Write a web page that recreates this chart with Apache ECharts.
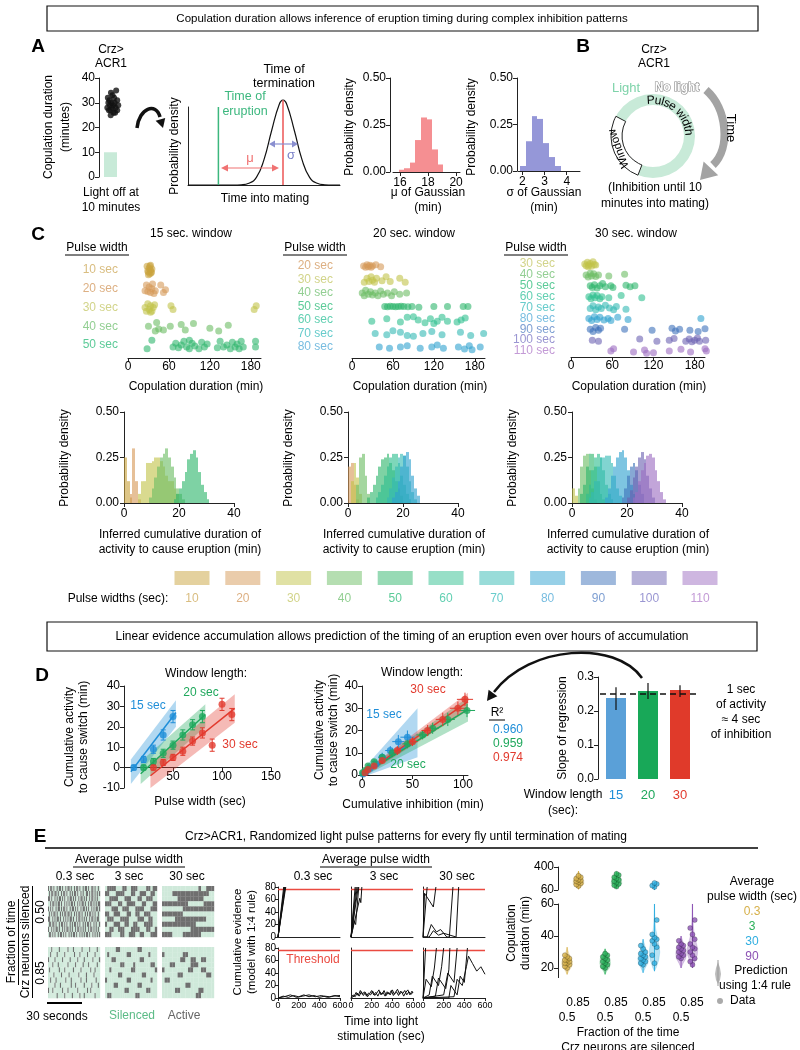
<!DOCTYPE html>
<html><head><meta charset="utf-8">
<script src="https://cdn.jsdelivr.net/npm/echarts@6.0.0/dist/echarts.min.js"></script>
<style>html,body{margin:0;padding:0;background:#fff;}#chart{width:800px;height:1050px;}</style>
</head><body><div id="chart"></div>
<script>
// ======================= DATA =======================
// ---- Panel A ----
const copDuration = [25,26,27,27,28,28,28,29,29,29,30,30,30,31,31,32,32,33,34,35,26,27];
const copJitter   = [0.45,0.62,0.38,0.7,0.5,0.32,0.64,0.42,0.74,0.55,0.36,0.6,0.48,0.7,0.4,0.58,0.34,0.52,0.46,0.66,0.56,0.44];
const lightOffAt = 10;
const gaussX = [0,3,3.5,4,4.5,5,5.5,6,6.25,6.5,7,7.5,8,8.5,9,9.5,10];
const gaussY = [0,0,0.003,0.02,0.09,0.3,0.64,0.95,1,0.95,0.64,0.3,0.09,0.02,0.003,0,0];
const eruptionT = 2.0, terminationT = 6.25;
const muEdges = [15.9,16.3,16.7,17.1,17.5,17.9,18.3,18.7,19.1];
const muDensity = [0.012,0.02,0.05,0.17,0.29,0.28,0.12,0.04];
const sigmaEdges = [1.9,2.16,2.42,2.68,2.94,3.2,3.46,3.72];
const sigmaDensity = [0.027,0.16,0.295,0.28,0.15,0.075,0.027];

// ---- Panel C ----
const pulseWidths = [10,20,30,40,50,60,70,80,90,100,110];
const pulseColors = ['#c9a33e','#d69a58','#c2c34a','#6cbd64','#2fb66c','#2fbf90','#33b9b4','#2fa2cf','#3d72ba','#6c62b2','#9d6dc2'];
const pulseTextColors = ['#d9bd80','#ddb083','#d2d48a','#93cf93','#5ccb98','#62d0b2','#68cccc','#78bde0','#7e9fd2','#9a96d2','#c39ad6'];
const win15Pulses = [10,20,30,40,50];
const win20Pulses = [20,30,40,50,60,70,80];
const win30Pulses = [30,40,50,60,70,80,90,100,110];
// [copulation duration (min), row jitter]
const win15Points = [
 [[28,-0.2],[30,0.1],[31,-0.1],[32,0.2],[33,0],[33,-0.25],[34,0.15],[35,-0.05],[30,0.25],[32,-0.2],[34,0.1],[29,0.05]],
 [[25,0.1],[27,-0.2],[29,0.15],[31,-0.1],[33,0.2],[35,0],[36,-0.25],[40,0.1],[48,-0.2],[52,0.2],[55,0.05],[38,0.25]],
 [[25,0],[27,0.2],[29,-0.2],[31,0.1],[33,-0.1],[35,0.2],[37,0],[39,-0.15],[33,0.25],[66,0.1],[63,-0.1],[185,0.1],[188,-0.1]],
 [[30,0],[42,-0.2],[45,0.15],[52,0.2],[62,0],[78,-0.1],[84,0.2],[96,-0.15],[120,0.1],[133,0.25],[147,-0.05],[40,0.25]],
 [[28,0.2],[35,-0.25],[66,0.1],[70,-0.1],[74,0.15],[78,0],[82,-0.2],[86,0.1],[90,0.2],[94,-0.1],[98,0.05],[104,0.2],[108,-0.15],[112,0.1],[116,-0.05],[131,0.15],[135,-0.2],[140,0.1],[145,0],[150,0.2],[153,-0.15],[157,0.1],[160,-0.05],[163,0.2],[166,-0.2],[169,0.1],[187,0.1],[187,-0.2],[90,-0.25]]
];
const win20Points = [
 [[17,0],[20,0.1],[22,-0.1],[24,0.05],[26,-0.05],[28,0.1],[30,0],[35,-0.1],[42,0.05]],
 [[18,0.2],[22,-0.1],[25,0.15],[28,-0.2],[30,0.05],[33,0.2],[36,-0.1],[44,0.1],[56,0.15],[70,-0.1],[78,0.2],[50,-0.2]],
 [[15,0],[18,0.2],[20,-0.2],[24,0.1],[27,-0.1],[30,0.15],[34,0],[38,0.2],[42,-0.15],[46,0.1],[52,0],[58,0.2],[62,-0.1],[70,0.1],[80,0]],
 [[48,0],[52,0.02],[56,-0.02],[60,0],[64,0.02],[68,0],[72,-0.02],[76,0],[82,0.02],[88,0],[98,0.05],[120,0],[140,0],[163,0],[170,0]],
 [[29,0.1],[51,-0.1],[71,0.15],[81,-0.2],[97,0],[107,0.2],[115,-0.1],[125,0.1],[132,-0.2],[154,0.15],[160,0],[166,-0.15],[120,0.25],[90,-0.25],[140,0.1]],
 [[34,0],[51,0.1],[71,-0.1],[81,0.15],[104,0],[117,-0.15],[132,0.1],[159,-0.1],[174,0.15],[193,0],[60,-0.2],[90,0.2]],
 [[40,0],[55,0.1],[71,0],[81,-0.1],[100,0.1],[117,0],[125,-0.15],[134,0.1],[156,0],[165,0.15],[172,-0.1],[176,0.2],[188,0]]
];
const win30Points = [
 [[20,0],[22,0.15],[24,-0.15],[26,0.1],[28,-0.05],[30,0.2],[32,-0.2],[34,0.05],[36,0.1],[25,0.25]],
 [[22,0],[25,0.2],[28,-0.15],[30,0.1],[33,-0.1],[36,0.15],[40,0],[55,0.1],[78,-0.05]],
 [[28,0],[31,0.15],[34,-0.1],[38,0.2],[42,0],[46,-0.2],[50,0.1],[58,0],[61,0.15],[80,-0.05],[86,0.1],[93,0]],
 [[26,0],[29,0.2],[32,-0.15],[35,0.1],[38,-0.1],[42,0.2],[45,0],[55,0.1],[73,-0.1],[103,0.1]],
 [[28,0.1],[32,-0.15],[36,0.2],[40,-0.05],[44,0.1],[50,-0.2],[56,0.05],[62,0.2],[66,-0.1],[80,0.15]],
 [[26,0],[30,0.2],[34,-0.15],[38,0.1],[42,-0.1],[48,0.15],[54,0],[58,0.2],[68,-0.1],[83,0.1],[189,0]],
 [[28,0],[32,0.2],[36,-0.15],[40,0.1],[43,-0.1],[78,0],[118,0.1],[147,-0.1],[152,0.15],[158,0],[173,0.1],[195,-0.05],[185,0.2]],
 [[31,0],[40,0.1],[100,-0.1],[125,0.1],[143,0],[150,-0.15],[167,0.1],[172,-0.1],[176,0.15],[180,0],[184,-0.2],[187,0.1],[196,0]],
 [[58,0],[62,-0.2],[91,0.1],[107,-0.1],[120,0.15],[143,0],[160,-0.15],[174,0.1],[197,0],[110,0.2],[195,-0.2]]
];
const histBin = 1;
const win15HistStart = [0,2,5,9,18];
const win15Hist = [
 [0.25,0.12,0.03],
 [0.05,0.30,0.12,0.02],
 [0.05,0.12,0.12,0.22,0.22,0.23,0.25,0.25,0.23,0.20,0.15,0.12,0.12,0.08,0.05],
 [0.03,0.08,0.14,0.20,0.25,0.27,0.30,0.25,0.20,0.14,0.08,0.05,0.02],
 [0.02,0.05,0.08,0.12,0.17,0.24,0.27,0.29,0.25,0.17,0.10,0.06,0.02]
];
const win20HistStart = [0,1,3,7,10,14,16];
const win20Hist = [
 [0.20,0.22,0.10,0.02],
 [0.12,0.22,0.14,0.05],
 [0.10,0.25,0.27,0.15,0.05],
 [0.03,0.06,0.10,0.15,0.20,0.24,0.25,0.27,0.22,0.18,0.12,0.08,0.04],
 [0.03,0.06,0.10,0.15,0.20,0.25,0.27,0.27,0.22,0.15,0.10,0.05,0.02],
 [0.03,0.08,0.14,0.20,0.25,0.27,0.26,0.20,0.12,0.06,0.02],
 [0.03,0.06,0.12,0.20,0.26,0.28,0.24,0.15,0.08,0.04]
];
const win30HistStart = [0,2,3,5,6,12,18,20,22];
const win30Hist = [
 [0.08,0.04],
 [0.08,0.20,0.26,0.27,0.18,0.08,0.02],
 [0.05,0.10,0.20,0.27,0.27,0.20,0.12,0.05,0.02],
 [0.05,0.10,0.18,0.25,0.27,0.25,0.18,0.10,0.05,0.02],
 [0.03,0.06,0.12,0.20,0.25,0.25,0.26,0.26,0.22,0.15,0.08,0.04],
 [0.03,0.08,0.15,0.20,0.25,0.28,0.29,0.25,0.18,0.10,0.05],
 [0.03,0.08,0.15,0.20,0.22,0.18,0.10,0.05],
 [0.03,0.07,0.14,0.20,0.25,0.28,0.24,0.15,0.08,0.03],
 [0.03,0.06,0.12,0.18,0.22,0.26,0.27,0.25,0.18,0.12,0.06,0.02]
];

// ---- Panel D ----
const windowColors = ['#1f8ed8','#1fa85c','#e23a2e'];
// [pulse width, cumulative activity, error]
const d1Points15 = [[10,0,1.2],[20,4,1.5],[30,9,2],[40,16,2.5],[50,25,3]];
const d1Points20 = [[20,0,1.2],[30,3,1.5],[40,7,2],[50,11,2],[60,16,2.5],[70,21,2.5],[80,25,3]];
const d1Points30 = [[30,0,1.2],[40,2.5,1.5],[50,5,1.5],[60,8,2],[70,13,2],[80,17,2.5],[90,11,3],[100,31,3],[110,26,3]];
const d1Fit  = [[7,-2,53,27],[17,-3,83,26],[27,-4,113,29]];
const d1Band = [[7,-8,4,53,20,33],[17,-8,3,83,20,31],[27,-10,2,113,22,36]];
// [cumulative inhibition, cumulative activity, x error, y error]
const d2Points15 = [[1,0.5,0.5,0.5],[4,1.5,1,1],[8,3,2,1],[14,5,3,1.5],[20,8,4,2],[28,11,5,2],[36,15,6,3],[45,17,7,3]];
const d2Points20 = [[0.5,1,0.5,0.5],[3,2,1,1],[6,4,1.5,1],[12,6,2,1],[20,8,3,1.5],[30,10,4,2],[45,14,5,2],[60,18,6,2],[70,21,6,2.5],[85,25,7,3],[104,29,8,3]];
const d2Points30 = [[3,1,1,0.5],[6,2.5,1.5,1],[12,4,2,1],[20,6.5,3,1.5],[35,11,4,2],[50,15,5,2],[65,20,6,2.5],[80,25,7,3],[95,30,8,3],[102,34,8,3]];
const d2Fit  = [[0,0,50,15],[0,0,105,29.5],[0,0,105,33]];
const d2Band = [[0,-1,2,55,8,30],[0,-1,1,105,24,35],[0,-1,1,105,29,37]];
const rSquared = ['0.960','0.959','0.974'];
const windowLengths = ['15','20','30'];
const slopeValues = [0.238,0.259,0.262];
const slopeLo = [0.203,0.235,0.241];
const slopeHi = [0.270,0.282,0.276];
const slopeRef = 0.25;
const barColors = ['#5aa0d8','#18a858','#e03a2a'];

// ---- Panel E ----
// light pulse patterns: 1 = active (no light), 0 = silenced
const pat03_50 = [
 "101101001011010010110100101101001011010011010010",
 "010110110100101101001010110100101001101011010101",
 "110100101011010100101101010010110101001011010100",
 "001011010110100101010110100101011010010110101011",
 "101010010110101101001011010100101101010010101101",
 "010101101001010110110100101011010010101101010010",
 "110010101101001010101101001011010101001011010110",
 "011011010010110101001010110101001010110100101001",
 "100101011010010101101010010110101010010110101010",
 "011010100101101010010101101001010101101001010101"];
const pat03_85 = [
 "000100000010000000100001000000010000001000000100",
 "001000001000000100000000100001000000100000010000",
 "100000100000010000001000000100000100000001000001",
 "000010000100000000100000010000001000010000000100",
 "010000000010000100000001000000100000000100010000",
 "000001000000100000010000000010000001000000100000",
 "001000010000000010000100000000100001000000001000",
 "000000100001000000000100010000000100000010000010",
 "100010000000010000100000000100000000100100000000",
 "000000001000000100000010000001000100000000010000"];
const pat3_50 = [
 "011110001100111000011011","110001111000110011100110","001111000111000110011100",
 "111000110011110001100011","000111001110001111000111","110011100011001100111000",
 "011100011110000111001100","100011100110011000111100","001100111000111100011001",
 "111000011001110011000111"];
const pat3_85 = [
 "000001100000000110000000","010000000011000000001000","000110000000000011000000",
 "000000011000010000000110","001000000000110000000001","000000110000000001100000",
 "100000000011000000000100","000011000000000110000000","000000000110000000011000",
 "011000000000001100000000"];
const pat30_50 = [
 "00000000000000100111","00001111111111111100","00000011111111110000",
 "11111111110000001111","00000000111111111111","11111111000000000000",
 "00000111111111111000","11111111111110000000","00000000000111111111",
 "11110000111111100000"];
const pat30_85 = [
 "00000000000000000000","10000000110000000000","00000001100110011000",
 "00011000000111000000","10000000001100011000","00000011000000000110",
 "01100000000000000000","00000000011000000000","00000110000000110000",
 "00000000000001100000"];
const evidenceThreshold = 76;
// cumulative evidence trajectories [time (s), evidence]
const evid03_50 = [[[0,0],[55,80]],[[0,0],[62,80]],[[0,0],[70,80]],[[0,0],[75,80]],[[0,0],[66,80]]];
const evid3_50 = [[[0,0],[40,80]],[[0,0],[50,80]],[[0,0],[60,80]],[[0,0],[70,80]],[[0,0],[85,62],[95,55],[105,80]],[[0,0],[30,25],[45,20],[75,80]]];
const evid30_50 = [[[0,0],[15,70],[100,48],[125,80]],[[0,0],[40,80]],
 [[0,0],[40,0],[80,20],[130,8],[170,12],[230,0],[255,0],[290,80]],
 [[0,0],[60,0],[100,10],[150,3],[200,6],[320,0],[345,80]]];
const evid03_85 = [
 [[0,0],[50,3],[100,1],[150,4],[200,2],[250,5],[300,2],[350,4],[400,1],[450,3],[500,2],[550,4],[600,2]],
 [[0,0],[60,2],[120,5],[180,1],[240,3],[300,5],[360,2],[420,4],[480,1],[540,3],[600,4]]];
const evid3_85 = [
 [[0,0],[20,5],[40,2],[60,8],[80,3],[100,10],[120,4],[140,9],[160,2],[180,7],[200,12],[220,5],[240,9],[260,3],[280,10],[300,6],[320,12],[340,4],[360,9],[380,5],[400,13],[420,6],[440,10],[460,4],[480,11],[500,7],[520,12],[540,5],[560,10],[580,6],[600,9]],
 [[0,0],[30,3],[50,9],[70,4],[90,12],[110,6],[130,10],[150,3],[170,8],[190,5],[210,11],[230,4],[250,8],[270,13],[290,5],[310,9],[330,3],[350,10],[370,6],[390,12],[410,4],[430,9],[450,14],[470,6],[490,10],[510,3],[530,9],[550,13],[570,5],[590,11],[600,8]]];
const evid30_85 = [
 [[0,0],[25,80]],
 [[0,0],[30,30],[80,18],[110,48],[130,80]],
 [[0,0],[60,5],[90,35],[150,20],[180,50],[200,80]],
 [[0,0],[120,3],[150,32],[220,15],[250,45],[260,80]],
 [[0,0],[200,5],[240,40],[300,25],[330,80]],
 [[0,0],[300,2],[330,30],[380,20],[420,50],[440,67],[480,55],[520,43],[560,50],[600,38]],
 [[0,0],[250,0],[270,20],[330,5],[360,35],[400,25],[430,80]]];
// copulation durations: groups (pulse width / fraction silenced)
const groupPulse = ['0.3','0.3','3','3','30','30','90','90'];
const groupFraction = ['0.5','0.85','0.5','0.85','0.5','0.85','0.5','0.85'];
const groupPos = [1,1.3,2,2.3,3,3.3,4,4.3];
const groupColors = ['#d6b04a','#d6b04a','#2ab05a','#2ab05a','#30aee0','#30aee0','#8c52b4','#8c52b4'];
const durLow = [[20,21,22,23,23,24,25,25,26,27,28],[],[20,21,22,23,24,25,26,27,28,29],[],
 [22,23,24,25,26,27,28,29,30,32,34],[23,28,33,35,37,38,39,41,50],[26,27,28,29,30,31,32,33,34,35,37],[22,24,26,28,30,32,33,35,38,41,45,50]];
const durHigh = [[],[120,140,160,175,190,200,215,230,250,270],[],[110,130,150,170,190,210,230,250,280,300],[],[105,125,150,165],[],[]];
// predicted violin profiles [duration, relative density]
const violinLow = [
 [[16,0],[18,0.3],[20,0.7],[22,1],[24,1],[26,0.8],[28,0.5],[30,0.25],[32,0.05],[33,0]], null,
 [[16,0],[18,0.3],[20,0.8],[23,1],[26,0.9],[28,0.6],[30,0.3],[32,0]], null,
 [[17,0],[20,0.4],[23,0.9],[26,1],[29,0.8],[32,0.5],[35,0.25],[38,0]],
 [[18,0],[20,0.3],[25,0.8],[30,1],[35,0.8],[40,0.5],[45,0.2],[50,0.1],[55,0.05],[60,0.03]],
 [[20,0],[23,0.4],[26,0.9],[29,1],[32,0.9],[35,0.5],[38,0.2],[40,0]],
 [[20,0],[24,0.5],[28,0.9],[32,1],[36,0.7],[40,0.4],[45,0.2],[50,0.1],[55,0.05],[60,0.03]]];
const violinHigh = [null,
 [[70,0],[100,0.5],[150,1],[200,1],[250,0.7],[300,0.3],[340,0]], null,
 [[80,0],[110,0.5],[160,1],[220,0.9],[280,0.5],[330,0]], null,
 [[60,0.03],[100,0.05],[150,0.03],[170,0]], null, null];

// ======================= BUILD =======================
const FONT = '"Liberation Sans", Arial, Helvetica, sans-serif';
const R90 = Math.PI/2;
const grids=[], xAxes=[], yAxes=[], series=[], graphics=[];
function merge(a,b){const o=Object.assign({},a);for(const k in b){const v=b[k];if(v&&typeof v==='object'&&!Array.isArray(v)&&a[k]&&typeof a[k]==='object'&&!Array.isArray(a[k]))o[k]=merge(a[k],v);else o[k]=v;}return o;}
const BASEAX={type:'value',axisLine:{show:true,onZero:false,lineStyle:{color:'#222',width:1}},axisTick:{show:true,length:4,lineStyle:{color:'#222',width:1}},axisLabel:{color:'#000',fontSize:12,fontFamily:FONT,margin:4},splitLine:{show:false}};
function AX(o){return merge(BASEAX,o||{});}
const HID={type:'value',show:false};
function addGrid(r,x,y){grids.push({left:r[0],top:r[1],width:r[2],height:r[3]});const gi=grids.length-1;xAxes.push(Object.assign({gridIndex:gi},x));yAxes.push(Object.assign({gridIndex:gi},y));return gi;}
function T(x,y,text,o){o=o||{};const al=o.align||'center',va=o.va||'middle';graphics.push({type:'text',x:x,y:y,rotation:o.rot||0,z:50,silent:true,style:{text:text,fill:o.color||'#000',font:(o.bold?'bold ':'')+(o.size||12)+'px '+FONT,textAlign:al,textVerticalAlign:va,align:al,verticalAlign:va,stroke:o.stroke||null,lineWidth:o.lw||0,opacity:o.op==null?1:o.op}});}
function LN(x1,y1,x2,y2,o){o=o||{};graphics.push({type:'line',z:40,silent:true,shape:{x1:x1,y1:y1,x2:x2,y2:y2},style:{stroke:o.color||'#000',lineWidth:o.w||1,lineDash:o.dash||null}});}
function BOX(x,y,w,h,o){o=o||{};graphics.push({type:'rect',z:30,silent:true,shape:{x:x,y:y,width:w,height:h},style:{fill:o.fill||'none',stroke:o.stroke||null,lineWidth:o.w||1,opacity:o.op==null?1:o.op}});}
function CURVE(x1,y1,c1x,c1y,c2x,c2y,x2,y2,o){graphics.push({type:'bezierCurve',z:40,silent:true,shape:{x1:x1,y1:y1,cpx1:c1x,cpy1:c1y,cpx2:c2x,cpy2:c2y,x2:x2,y2:y2},style:{stroke:o.color||'#000',lineWidth:o.w||1,fill:'none'}});}
function HEAD(tx,ty,dx,dy,len,hw,color){const n=Math.hypot(dx,dy);dx/=n;dy/=n;const bx=tx-dx*len,by=ty-dy*len,px=-dy,py=dx;graphics.push({type:'polygon',z:45,silent:true,shape:{points:[[tx,ty],[bx+px*hw,by+py*hw],[bx-px*hw,by-py*hw]]},style:{fill:color}});}
function rectSeries(gi,rects,color,op){return {type:'custom',xAxisIndex:gi,yAxisIndex:gi,silent:true,data:rects,encode:{x:[0,1],y:2},
 renderItem:function(p,api){const a=api.coord([api.value(0),api.value(2)]),b=api.coord([api.value(1),0]);const x0=Math.round(a[0]),x1=Math.round(b[0]);
  return {type:'rect',shape:{x:x0,y:a[1],width:x1-x0,height:b[1]-a[1]},style:{fill:color,opacity:op}};}};}

// ---------- title boxes ----------
BOX(47,6,711,25,{stroke:'#111',w:1.2});
T(402,19,'Copulation duration allows inference of eruption timing during complex inhibition patterns',{size:11.5});
BOX(47,622,710,29,{stroke:'#111',w:1.2});
T(402,637,'Linear evidence accumulation allows prediction of the timing of an eruption even over hours of accumulation',{size:12});

// ---------- Panel A ----------
T(38,47,'A',{bold:true,size:19});
T(111,50,'Crz>');T(111,64,'ACR1');
let gi=addGrid([99,78,26,99],Object.assign({},HID,{min:0,max:1}),AX({min:0,max:40,interval:10}));
series.push(rectSeries(gi,[[0.2,0.7,lightOffAt]],'#c8ead8',1));
series.push({type:'scatter',xAxisIndex:gi,yAxisIndex:gi,silent:true,symbolSize:6,clip:false,itemStyle:{color:'#111'},data:copDuration.map((v,i)=>[copJitter[i],v])});
T(49,127,'Copulation duration',{rot:R90});T(66,127,'(minutes)',{rot:R90});
T(111,193,'Light off at');T(111,208,'10 minutes');
CURVE(137,128,139,108,156,102,160,117,{w:3.5,color:'#111'});HEAD(163,128,0.3,1,9,5,'#111');
// gaussian schematic
gi=addGrid([188,107,152,78],AX({min:0,max:10,axisTick:{show:false},axisLabel:{show:false}}),AX({min:0,max:0.92,axisTick:{show:false},axisLabel:{show:false}}));
series.push({type:'line',xAxisIndex:gi,yAxisIndex:gi,silent:true,smooth:true,symbol:'none',clip:false,lineStyle:{color:'#111',width:1.2},data:gaussX.map((x,i)=>[x,gaussY[i]])});
series.push({type:'line',xAxisIndex:gi,yAxisIndex:gi,silent:true,symbol:'none',lineStyle:{color:'#3cb77e',width:1.5},data:[[eruptionT,0],[eruptionT,0.92]]});
series.push({type:'line',xAxisIndex:gi,yAxisIndex:gi,silent:true,symbol:'none',clip:false,lineStyle:{color:'#f07272',width:1.8},data:[[terminationT,0],[terminationT,1]]});
T(245,97,'Time of',{color:'#3cb77e',size:12.5});T(245,112,'eruption',{color:'#3cb77e',size:12.5});
T(284,70,'Time of',{size:12.5});T(284,84,'termination',{size:12.5});
LN(226,168,274,168,{color:'#f07272',w:1.2});HEAD(221,168,-1,0,7,3.5,'#f07272');HEAD(279,168,1,0,7,3.5,'#f07272');
T(250,158,'μ',{color:'#f07272',size:13});
LN(274,144,293,144,{color:'#8a8fd0',w:1.2});HEAD(269,144,-1,0,6,3.5,'#8a8fd0');HEAD(298,144,1,0,6,3.5,'#8a8fd0');
T(291,155,'σ',{color:'#7a80c8',size:13});
T(175,146,'Probability density',{rot:R90});T(265,199,'Time into mating');
// mu histogram
gi=addGrid([393,78,67,94],AX({min:15.5,max:20.28,axisLabel:{customValues:[16,18,20],margin:5},axisTick:{customValues:[16,18,20]}}),AX({min:0,max:0.5,interval:0.25,offset:3,axisLabel:{formatter:v=>v.toFixed(2)}}));
series.push(rectSeries(gi,muDensity.map((h,i)=>[muEdges[i],muEdges[i+1],h]),'#f4898c',0.95));
T(350,127,'Probability density',{rot:R90});T(428,193,'μ of Gaussian');T(428,208,'(min)');
// sigma histogram
gi=addGrid([518,78,62,93],AX({min:1.8,max:4.6,axisLabel:{customValues:[2,3,4],margin:5},axisTick:{customValues:[2,3,4]}}),AX({min:0,max:0.5,interval:0.25,offset:1,axisLabel:{formatter:v=>v.toFixed(2)}}));
series.push(rectSeries(gi,sigmaDensity.map((h,i)=>[sigmaEdges[i],sigmaEdges[i+1],h]),'#8f91d6',0.95));
T(472,127,'Probability density',{rot:R90});T(544,193,'σ of Gaussian');T(544,208,'(min)');

// ---------- Panel B ----------
T(583,47,'B',{bold:true,size:19});
T(654,50,'Crz>');T(654,64,'ACR1');
const rcx=653,rcy=136;
graphics.push({type:'ring',z:30,silent:true,shape:{cx:rcx,cy:rcy,r:42,r0:31},style:{fill:'#c8ead8'}});
graphics.push({type:'sector',z:31,silent:true,shape:{cx:rcx,cy:rcy,r0:31,r:42,startAngle:111*Math.PI/180,endAngle:208*Math.PI/180,clockwise:true},style:{fill:'#fff',stroke:'#222',lineWidth:1}});
T(rcx+36.5*Math.cos(200*Math.PI/180),rcy-36.5*Math.sin(200*Math.PI/180),'Window',{rot:110*Math.PI/180,size:11.5});
(function(){const cw={P:8,u:6.7,l:2.7,s:6,e:6.7,' ':3.3,w:8.7,i:2.7,d:6.7,t:3.3,h:6.7};const R=35.5;let ang=100*Math.PI/180;
 for(const ch of 'Pulse width'){const w=cw[ch]||6.5;const a=ang-(w/2)/R;T(rcx+R*Math.cos(a),rcy-R*Math.sin(a),ch,{rot:a-R90,size:12});ang-=w/R;}})();
T(626,88,'Light',{color:'#7fd3aa',size:13});
T(677,88,'No light',{color:'#fff',stroke:'#8a8a8a',lw:1.2,bold:true,size:12});
CURVE(706,90,727,108,731,148,713,165,{w:8,color:'#a3a3a3'});HEAD(700,180,-0.7,0.75,16,10,'#a3a3a3');
T(731,128,'Time',{rot:-R90,size:13});
T(655,188,'(Inhibition until 10');T(655,204,'minutes into mating)');

// ---------- Panel C ----------
T(38,235,'C',{bold:true,size:19});
T(191,234,'15 sec. window');T(414,234,'20 sec. window');T(636,234,'30 sec. window');
[[97,65,129],[315,283,347],[536,504,568]].forEach(p=>{T(p[0],248,'Pulse width');LN(p[1],255,p[2],255,{w:1});});
function addScatterPanel(rect,offset,margin,pulses,points){
 const n=pulses.length;
 const g=addGrid(rect,AX({min:0,max:195,interval:60,offset:offset,axisLabel:{margin:3}}),{type:'value',show:false,min:0,max:n-1,inverse:true});
 points.forEach((row,i)=>{const ci=pulseWidths.indexOf(pulses[i]);
  series.push({type:'scatter',xAxisIndex:g,yAxisIndex:g,clip:false,silent:true,symbolSize:7,itemStyle:{color:pulseColors[ci],opacity:0.6},data:row.map(p=>[p[0],i+p[1]])});
  T(rect[0]-margin,rect[1]+i*rect[3]/(n-1),pulses[i]+' sec',{align:'right',color:pulseTextColors[ci]});});
 T(rect[0]+68,387,'Copulation duration (min)');}
addScatterPanel([128,270,133,75],13,10,win15Pulses,win15Points);
addScatterPanel([352,266,133,81],11,19,win20Pulses,win20Points);
addScatterPanel([571,264,134,87],6,16,win30Pulses,win30Points);
function addHistPanel(left,pulses,starts,hists){
 const g=addGrid([left,412,110,91],AX({min:0,max:40,interval:20,axisLabel:{margin:5}}),AX({min:0,max:0.5,interval:0.25,axisLabel:{margin:5,formatter:v=>v.toFixed(2)}}));
 hists.forEach((h,i)=>{const ci=pulseWidths.indexOf(pulses[i]);series.push(rectSeries(g,h.map((v,j)=>[starts[i]+j*histBin,starts[i]+(j+1)*histBin,v]),pulseColors[ci],0.62));});
 T(left-59,458,'Probability density',{rot:R90});
 T(left+56,535,'Inferred cumulative duration of');T(left+56,550,'activity to cause eruption (min)');}
addHistPanel(124,win15Pulses,win15HistStart,win15Hist);
addHistPanel(348,win20Pulses,win20HistStart,win20Hist);
addHistPanel(572,win30Pulses,win30HistStart,win30Hist);
// pulse width legend
pulseWidths.forEach((p,i)=>{const cx=192+i*50.8;BOX(cx-17.5,571,35,14,{fill:pulseColors[i],op:0.5});T(cx,599,String(p),{color:pulseTextColors[i]});});
T(118,599,'Pulse widths (sec):');

// ---------- Panel D ----------
T(42,676,'D',{bold:true,size:19});
function bandSeries(g,b,color){return {type:'custom',xAxisIndex:g,yAxisIndex:g,silent:true,z:1,data:[b],encode:{x:[0,3],y:[1,2,4,5]},
 renderItem:function(p,api){const pts=[api.coord([b[0],b[1]]),api.coord([b[3],b[4]]),api.coord([b[3],b[5]]),api.coord([b[0],b[2]])];return {type:'polygon',shape:{points:pts},style:{fill:color,opacity:0.35}};}};}
function errSeries(g,pts,color,horiz){return {type:'custom',xAxisIndex:g,yAxisIndex:g,silent:true,z:3,data:pts,encode:{x:0,y:1},
 renderItem:function(p,api){const x=api.value(0),y=api.value(1);const ye=horiz?api.value(3):api.value(2);const ch=[];
  const a=api.coord([x,y-ye]),b=api.coord([x,y+ye]);ch.push({type:'line',shape:{x1:a[0],y1:a[1],x2:b[0],y2:b[1]},style:{stroke:color,lineWidth:1}});
  if(!horiz){ch.push({type:'line',shape:{x1:b[0]-2.5,y1:b[1],x2:b[0]+2.5,y2:b[1]},style:{stroke:color,lineWidth:1}});ch.push({type:'line',shape:{x1:a[0]-2.5,y1:a[1],x2:a[0]+2.5,y2:a[1]},style:{stroke:color,lineWidth:1}});}
  else{const xe=api.value(2);const c=api.coord([x-xe,y]),d=api.coord([x+xe,y]);ch.push({type:'line',shape:{x1:c[0],y1:c[1],x2:d[0],y2:d[1]},style:{stroke:color,lineWidth:1}});}
  return {type:'group',children:ch};}};}
// D1
gi=addGrid([124,686,147,102],AX({min:0,max:150,interval:50,offset:-20.4,axisLabel:{margin:3,formatter:v=>v===0?'':String(v)}}),AX({min:-10,max:40,interval:10}));
[d1Points15,d1Points20,d1Points30].forEach((pts,k)=>{const c=windowColors[k];
 series.push(bandSeries(gi,d1Band[k],c));
 series.push({type:'line',xAxisIndex:gi,yAxisIndex:gi,silent:true,symbol:'none',z:2,lineStyle:{color:c,width:1.5},data:[[d1Fit[k][0],d1Fit[k][1]],[d1Fit[k][2],d1Fit[k][3]]]});
 series.push(errSeries(gi,pts,c,false));
 series.push({type:'scatter',xAxisIndex:gi,yAxisIndex:gi,silent:true,z:4,symbolSize:7,itemStyle:{color:c},data:pts.map(p=>[p[0],p[1]])});});
T(206,674,'Window length:');T(148,706,'15 sec',{color:windowColors[0]});T(201,693,'20 sec',{color:windowColors[1]});T(240,745,'30 sec',{color:windowColors[2]});
T(200,802,'Pulse width (sec)');T(70,737,'Cumulative activity',{rot:R90});T(84,737,'to cause switch (min)',{rot:R90});
// D2
gi=addGrid([362,686,106,89],AX({min:0,max:105,interval:50}),AX({min:0,max:40,interval:10}));
[d2Points15,d2Points20,d2Points30].forEach((pts,k)=>{const c=windowColors[k];
 series.push(bandSeries(gi,d2Band[k],c));
 series.push({type:'line',xAxisIndex:gi,yAxisIndex:gi,silent:true,symbol:'none',z:2,lineStyle:{color:c,width:1.5},data:[[d2Fit[k][0],d2Fit[k][1]],[d2Fit[k][2],d2Fit[k][3]]]});
 series.push(errSeries(gi,pts,c,true));
 series.push({type:'scatter',xAxisIndex:gi,yAxisIndex:gi,silent:true,z:4,symbolSize:7,itemStyle:{color:c},data:pts.map(p=>[p[0],p[1]])});});
T(422,673,'Window length:');T(428,690,'30 sec',{color:windowColors[2]});T(384,715,'15 sec',{color:windowColors[0]});T(408,765,'20 sec',{color:windowColors[1]});
T(413,805,'Cumulative inhibition (min)');T(320,730,'Cumulative activity',{rot:R90});T(334,730,'to cause switch (min)',{rot:R90});
T(497,713,'R²');LN(489,720,505,720);
rSquared.forEach((r,k)=>T(508,730+k*14,r,{color:windowColors[k]}));
// D3
gi=addGrid([600,677,96,102],{type:'category',data:windowLengths,axisLine:{show:false},axisTick:{show:false},
 axisLabel:{margin:10,interval:0,formatter:(v,i)=>'{w'+i+'|'+v+'}',rich:{w0:{color:windowColors[0],fontSize:13,fontFamily:FONT},w1:{color:windowColors[1],fontSize:13,fontFamily:FONT},w2:{color:windowColors[2],fontSize:13,fontFamily:FONT}}}},
 AX({min:0,max:0.3,interval:0.1,offset:2,axisLabel:{formatter:v=>v.toFixed(1)}}));
series.push({type:'bar',xAxisIndex:gi,yAxisIndex:gi,silent:true,barWidth:20,data:slopeValues.map((v,i)=>({value:v,itemStyle:{color:barColors[i]}})),
 markLine:{silent:true,symbol:'none',label:{show:false},lineStyle:{type:[6,4],color:'#111',width:1.5},data:[{yAxis:slopeRef}]}});
series.push({type:'custom',xAxisIndex:gi,yAxisIndex:gi,silent:true,z:5,data:slopeValues.map((v,i)=>[i,slopeLo[i],slopeHi[i]]),encode:{x:0,y:[1,2]},
 renderItem:function(p,api){const a=api.coord([api.value(0),api.value(1)]),b=api.coord([api.value(0),api.value(2)]);return {type:'line',shape:{x1:a[0],y1:a[1],x2:b[0],y2:b[1]},style:{stroke:'#111',lineWidth:1.2}};}});
T(563,728,'Slope of regression',{rot:R90});T(563,795,'Window length');T(563,811,'(sec):');
T(741,690,'1 sec');T(741,705,'of activity');T(741,720,'≈ 4 sec');T(741,735,'of inhibition');
CURVE(642,678,615,640,530,645,494,692,{w:2.5,color:'#111'});HEAD(487,701,-0.6,0.8,10,5.5,'#111');

// ---------- Panel E ----------
T(40,837,'E',{bold:true,size:19});
T(406,837,'Crz>ACR1, Randomized light pulse patterns for every fly until termination of mating');
LN(45,848,758,848,{w:1.5});
// E1 patterns
T(129,860,'Average pulse width');LN(73,867,185,867);
T(75,877,'0.3 sec');T(129,877,'3 sec');T(187,877,'30 sec');
function addPattern(x,y,pat){const nc=pat[0].length,nr=pat.length;const g=addGrid([x,y,52,51],Object.assign({},HID,{min:0,max:nc}),Object.assign({},HID,{min:0,max:nr,inverse:true}));
 const data=[];pat.forEach((row,r)=>{for(let c=0;c<row.length;c++)data.push([c,r,row[c]==='1'?1:0]);});
 series.push({type:'custom',xAxisIndex:g,yAxisIndex:g,silent:true,data:data,encode:{x:0,y:1},
  renderItem:function(p,api){const c=api.value(0),r=api.value(1),v=api.value(2);const a=api.coord([c,r]),b=api.coord([c+1,r+1]);
   return {type:'rect',shape:{x:Math.min(a[0],b[0]),y:Math.min(a[1],b[1]),width:Math.abs(b[0]-a[0])+0.2,height:Math.abs(b[1]-a[1])+0.2},style:{fill:v?'#6f6f6f':'#cfe9da'}};}});}
addPattern(48,886,pat03_50);addPattern(105,886,pat3_50);addPattern(162,886,pat30_50);
addPattern(48,947,pat03_85);addPattern(105,947,pat3_85);addPattern(162,947,pat30_85);
T(41,912,'0.50',{rot:R90});T(41,973,'0.85',{rot:R90});
T(12,942,'Fraction of time',{rot:R90});LN(18.5,899,18.5,985);
T(26,942,'Crz neurons silenced',{rot:R90});LN(32.5,886,32.5,998);
LN(47,1003,82,1003,{w:2});T(57,1017,'30 seconds');
T(132,1016,'Silenced',{color:'#5bbb86'});T(184,1016,'Active',{color:'#666'});
// E2 evidence
T(376,860,'Average pulse width');LN(320,867,432,867);
T(313,877,'0.3 sec');T(384,877,'3 sec');T(457,877,'30 sec');
function addEvidence(x,y,showX,showY,trajs){
 const g=addGrid([x,y,62,50],AX({min:0,max:600,interval:200,axisLabel:{show:showX,fontSize:9,margin:3},axisTick:{show:showX,length:3}}),
  AX({min:0,max:80,interval:20,axisLabel:{show:showY,fontSize:10,margin:2},axisTick:{show:showY,length:3}}));
 series.push({type:'line',xAxisIndex:g,yAxisIndex:g,silent:true,symbol:'none',z:3,lineStyle:{color:'#ea4a40',width:1.5},data:[[0,evidenceThreshold],[600,evidenceThreshold]]});
 trajs.forEach(t=>series.push({type:'line',xAxisIndex:g,yAxisIndex:g,silent:true,symbol:'none',z:4,lineStyle:{color:'#111',width:1},data:t}));}
addEvidence(278,887,false,true,evid03_50);addEvidence(351,887,false,false,evid3_50);addEvidence(423,887,false,false,evid30_50);
addEvidence(278,948,true,true,evid03_85);addEvidence(351,948,true,false,evid3_85);addEvidence(423,948,true,false,evid30_85);
T(313,960,'Threshold',{color:'#ea4a40',size:12});
T(381,1022,'Time into light');T(381,1037,'stimulation (sec)');
T(238,942,'Cumulative evidence',{rot:R90,size:11.5});T(252,942,'(model with 1:4 rule)',{rot:R90,size:11.5});
// E3 durations
const VW=0.14;
function violin(g,xpos,prof,color){return {type:'custom',xAxisIndex:g,yAxisIndex:g,silent:true,clip:false,z:2,data:[[xpos,prof[0][0],prof[prof.length-1][0]]],encode:{x:0,y:[1,2]},
 renderItem:function(p,api){const L=[],R=[];prof.forEach(q=>{L.push(api.coord([xpos-q[1]*VW,q[0]]));R.push(api.coord([xpos+q[1]*VW,q[0]]));});
  const t=api.coord([xpos,prof[prof.length-1][0]]),b=api.coord([xpos,prof[0][0]]);
  return {type:'group',children:[{type:'polygon',shape:{points:L.concat(R.reverse())},style:{fill:color,opacity:0.35,stroke:color,lineWidth:0.6}},
   {type:'line',shape:{x1:t[0],y1:t[1],x2:b[0],y2:b[1]},style:{stroke:color,lineWidth:1}}]};}};}
function dots(g,vals,xpos,color){const off=[0,-0.06,0.06];return {type:'scatter',xAxisIndex:g,yAxisIndex:g,silent:true,clip:false,z:5,symbolSize:5,
 itemStyle:{color:color,borderColor:'rgba(0,0,0,0.45)',borderWidth:0.6},data:vals.map((v,i)=>[xpos+off[i%3],v])};}
const gTop=addGrid([558,867,147,23],Object.assign({},HID,{min:0.76,max:4.63}),AX({min:60,max:400,axisLabel:{customValues:[60,400]},axisTick:{customValues:[60,400]}}));
const gLow=addGrid([558,904,147,73.6],Object.assign({},HID,{min:0.76,max:4.63}),AX({min:14,max:60,axisLabel:{customValues:[20,40,60]},axisTick:{customValues:[20,40,60]}}));
groupPos.forEach((x,i)=>{const c=groupColors[i];
 if(violinLow[i])series.push(violin(gLow,x,violinLow[i],c));
 if(violinHigh[i])series.push(violin(gTop,x,violinHigh[i],c));
 if(durLow[i].length)series.push(dots(gLow,durLow[i],x,c));
 if(durHigh[i].length)series.push(dots(gTop,durHigh[i],x,c));});
T(512,933,'Copulation',{rot:R90});T(526,933,'duration (min)',{rot:R90});
[578,616,654,692].forEach(x=>T(x,1003,'0.85'));[567,605,643,681].forEach(x=>T(x,1018,'0.5'));
T(628,1033,'Fraction of the time');T(628,1048,'Crz neurons are silenced');
T(752,882,'Average');T(752,897,'pulse width (sec)');
T(752,912,'0.3',{color:groupColors[0]});T(752,927,'3',{color:groupColors[2]});T(752,942,'30',{color:groupColors[4]});T(752,957,'90',{color:groupColors[6]});
graphics.push({type:'polygon',z:40,silent:true,shape:{points:[[718,962],[720,968],[721,974],[720,980],[718,984],[716,980],[715,974],[716,968]]},style:{fill:'#aaa',opacity:0.8}});
LN(718,960,718,986,{color:'#999',w:1});
T(761,971,'Prediction');T(755,986,'using 1:4 rule');
graphics.push({type:'circle',z:40,silent:true,shape:{cx:720,cy:1001,r:3},style:{fill:'#aaa'}});
T(730,1001,'Data',{align:'left'});

const chart=echarts.init(document.getElementById('chart'),null,{renderer:'canvas'});
chart.setOption({animation:false,backgroundColor:'#fff',textStyle:{fontFamily:FONT},grid:grids,xAxis:xAxes,yAxis:yAxes,series:series,graphic:{elements:graphics}});
</script></body></html>
